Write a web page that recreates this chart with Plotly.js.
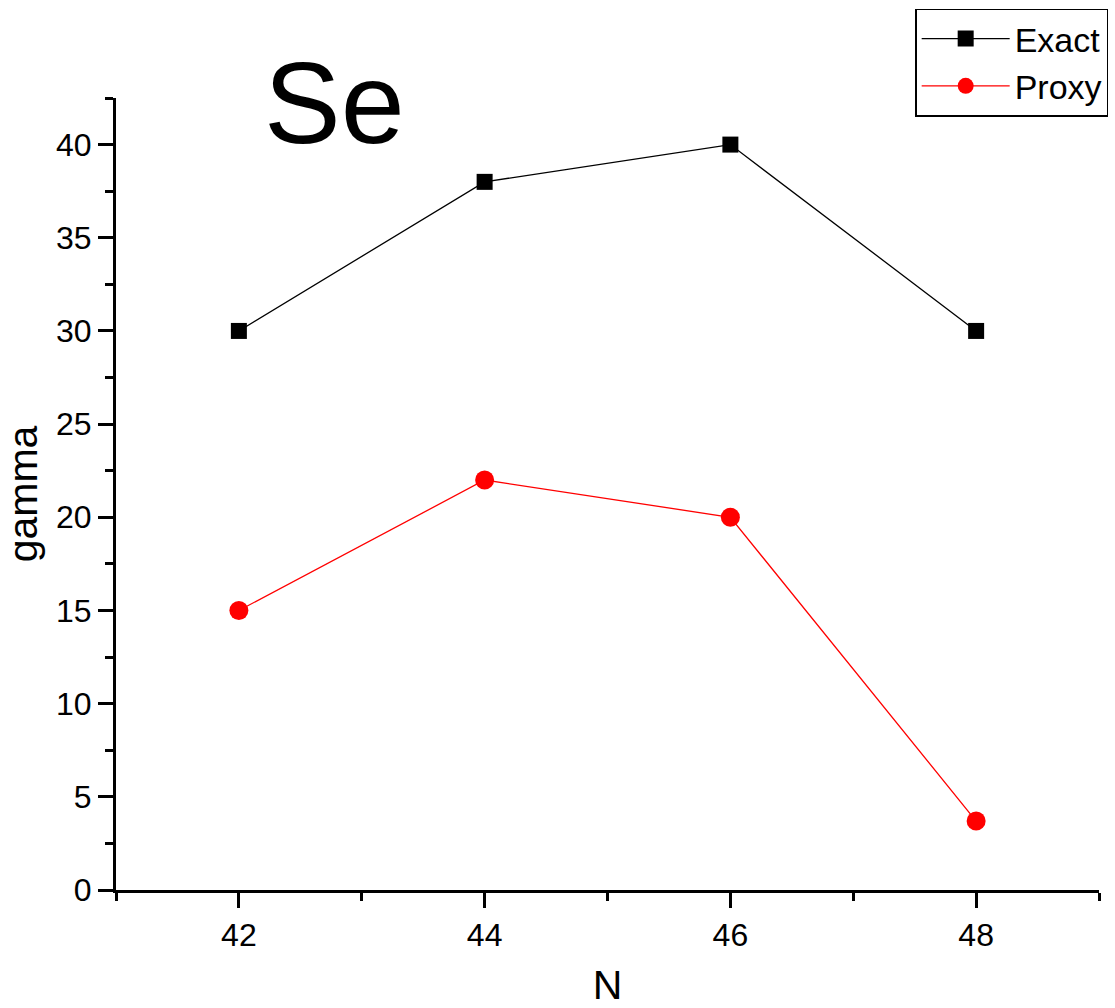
<!DOCTYPE html>
<html><head><meta charset="utf-8">
<script src="https://cdn.plot.ly/plotly-3.0.1.min.js"></script>
<style>html,body{margin:0;padding:0;background:#fff}#chart{width:1115px;height:1008px}</style>
</head><body><div id="chart"></div>
<script>
const N = [42, 44, 46, 48];
const exact = [30, 38, 40, 30];
const proxy = [15, 22, 20, 3.7];
const seriesNames = ['Exact', 'Proxy'];
const font = 'Liberation Sans, Arial, sans-serif';

const traces = [
  {x: N, y: exact, name: seriesNames[0], type: 'scatter', mode: 'lines+markers',
   line: {color: '#000000', width: 1.3},
   marker: {symbol: 'square', size: 16, color: '#000000'}},
  {x: N, y: proxy, name: seriesNames[1], type: 'scatter', mode: 'lines+markers',
   line: {color: '#ff0000', width: 1.3},
   marker: {symbol: 'circle', size: 19, color: '#ff0000'}}
];

const axisCommon = {
  showline: true, linewidth: 3, linecolor: '#000', mirror: false,
  ticks: 'outside', ticklen: 15, tickwidth: 3, tickcolor: '#000',
  showgrid: false, zeroline: false,
  tickfont: {family: font, size: 32, color: '#000'}
};

const layout = {
  width: 1115, height: 1008,
  margin: {l: 116, r: 16, t: 98, b: 118, autoexpand: false},
  paper_bgcolor: '#fff', plot_bgcolor: '#fff',
  showlegend: true,
  legend: {x: 0.813, y: 1.113, xanchor: 'left', yanchor: 'top',
    bordercolor: '#000', borderwidth: 1.5, bgcolor: '#fff',
    font: {family: font, size: 34, color: '#000'}, itemwidth: 88,
    tracegroupgap: 0},
  xaxis: Object.assign({}, axisCommon, {
    range: [41, 49], tickvals: [42, 44, 46, 48],
    minor: {tickvals: [41, 43, 45, 47, 49], ticklen: 8, tickwidth: 3, tickcolor: '#000', ticks: 'outside'},
    title: {text: 'N', font: {family: font, size: 41, color: '#000'}, standoff: 28}
  }),
  yaxis: Object.assign({}, axisCommon, {
    range: [0, 42.5], dtick: 5, tick0: 0,
    minor: {dtick: 2.5, ticklen: 8, tickwidth: 3, tickcolor: '#000', ticks: 'outside'},
    title: {text: 'gamma', font: {family: font, size: 41, color: '#000'}, standoff: 14}
  }),
  annotations: [{text: 'Se', xref: 'paper', yref: 'paper', x: 0.222, y: 0.994,
    xanchor: 'center', yanchor: 'middle', showarrow: false,
    font: {family: font, size: 115, color: '#000'}}]
};

Plotly.newPlot('chart', traces, layout, {displayModeBar: false, staticPlot: true});
</script></body></html>
